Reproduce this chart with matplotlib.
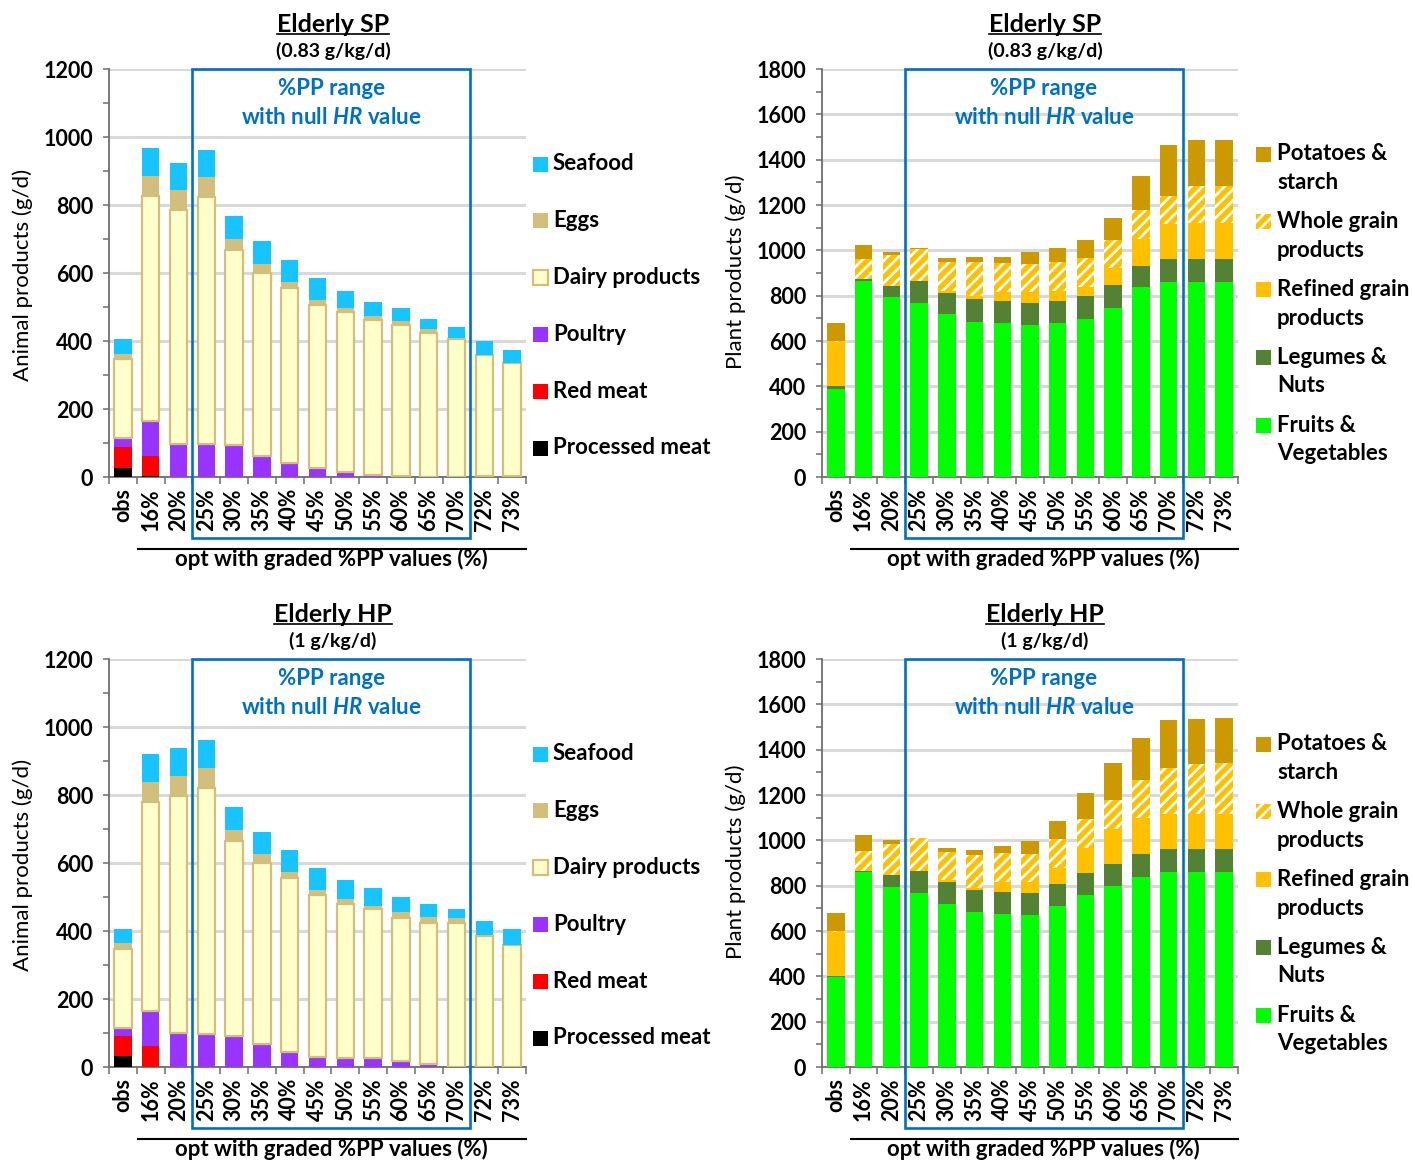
import matplotlib
matplotlib.use("Agg")
import matplotlib.pyplot as plt
import numpy as np
from matplotlib.patches import Rectangle
from matplotlib.lines import Line2D
from matplotlib.ticker import MultipleLocator
import matplotlib.transforms as mtransforms

plt.rcParams['font.family'] = ['Lato', 'DejaVu Sans']
plt.rcParams['mathtext.fontset'] = 'custom'
plt.rcParams['mathtext.it'] = 'Lato:italic:bold'
plt.rcParams['mathtext.rm'] = 'Lato:bold'
plt.rcParams['hatch.linewidth'] = 1.9

# ---------------------------------------------------------------- data
categories = ["obs", "16%", "20%", "25%", "30%", "35%", "40%", "45%",
              "50%", "55%", "60%", "65%", "70%", "72%", "73%"]

# Animal products, Elderly SP (g/d)
sp_processed = [27, 2, 0, 0, 0, 0, 0, 0, 0, 0, 0, 0, 0, 0, 0]
sp_red = [61, 61, 0, 0, 0, 0, 0, 0, 0, 0, 0, 0, 0, 3, 3]
sp_poultry = [28, 102, 98, 98, 93, 63, 41, 26, 14, 7, 2, 0, 0, 0, 0]
sp_dairy = [230, 662, 688, 726, 576, 538, 514, 480, 470, 455, 444, 424, 407, 355, 332]
sp_eggs = [17, 59, 59, 58, 31, 25, 18, 14, 13, 12, 13, 10, 2, 0, 0]
sp_seafood = [42, 82, 78, 79, 69, 67, 64, 64, 49, 42, 37, 32, 31, 41, 40]

# Plant products, Elderly SP (g/d)
sp_fruits = [390, 865, 792, 769, 719, 683, 678, 672, 678, 695, 745, 837, 860, 860, 860]
sp_legumes = [11, 8, 51, 97, 94, 102, 97, 97, 97, 102, 102, 95, 100, 100, 100]
sp_refined = [196, 0, 0, 0, 8, 15, 43, 46, 44, 40, 74, 118, 155, 162, 162]
sp_whole = [3, 87, 137, 142, 128, 147, 126, 125, 131, 131, 125, 127, 125, 162, 162]
sp_potatoes = [80, 62, 14, 4, 17, 22, 28, 54, 62, 78, 96, 152, 224, 204, 204]

# Animal products, Elderly HP (g/d)
hp_processed = [31, 0, 0, 0, 0, 0, 0, 0, 0, 0, 0, 0, 0, 0, 0]
hp_red = [61, 61, 0, 0, 0, 0, 0, 0, 0, 0, 0, 0, 0, 0, 0]
hp_poultry = [24, 103, 100, 96, 92, 67, 44, 30, 26, 26, 18, 10, 0, 0, 0]
hp_dairy = [231, 614, 697, 725, 573, 533, 511, 476, 454, 439, 421, 413, 423, 384, 360]
hp_eggs = [17, 59, 59, 59, 33, 26, 18, 14, 14, 9, 16, 17, 14, 4, 0]
hp_seafood = [41, 83, 83, 82, 68, 64, 64, 64, 56, 52, 45, 38, 28, 40, 45]

# Plant products, Elderly HP (g/d)
hp_fruits = [396, 860, 792, 769, 717, 683, 677, 671, 712, 757, 797, 837, 860, 860, 860]
hp_legumes = [4, 6, 56, 97, 97, 97, 97, 98, 96, 97, 97, 103, 102, 102, 102]
hp_refined = [196, 0, 0, 0, 9, 8, 43, 48, 68, 113, 158, 157, 155, 155, 155]
hp_whole = [3, 86, 138, 143, 127, 146, 129, 123, 128, 125, 126, 167, 201, 221, 226]
hp_potatoes = [82, 72, 15, 3, 17, 22, 27, 55, 81, 118, 164, 186, 212, 196, 197]

animal_labels = ["Processed meat", "Red meat", "Poultry", "Dairy products", "Eggs", "Seafood"]
plant_labels = ["Fruits &\nVegetables", "Legumes &\nNuts", "Refined grain\nproducts",
                "Whole grain\nproducts", "Potatoes &\nstarch"]

# ---------------------------------------------------------------- styles
EGG = "#D3BF7C"
animal_styles = [
    dict(color="#000000"),
    dict(color="#FF0000"),
    dict(color="#9933FF"),
    dict(facecolor="#FFFFCC", edgecolor=EGG, linewidth=1.6),
    dict(color=EGG),
    dict(color="#17C4FF"),
]
plant_styles = [
    dict(color="#00FF00"),
    dict(color="#548235"),
    dict(color="#FFC000"),
    dict(facecolor="#FFC000", edgecolor="white", linewidth=0, hatch="///"),
    dict(color="#CC9900"),
]
BLUE = "#0070C0"
FS = 16

W, H = 1412, 1161
fig = plt.figure(figsize=(W / 100, H / 100), dpi=100)


def add_axes_px(x0, x1, ytop, ybot):
    return fig.add_axes([x0 / W, 1 - ybot / H, (x1 - x0) / W, (ybot - ytop) / H])


def draw_panel(ax, series, styles, ymax, major):
    x = np.arange(len(categories))
    bottom = np.zeros(len(categories))
    for vals, st in zip(series, styles):
        vals = np.asarray(vals, dtype=float)
        ax.bar(x, vals, width=0.63, bottom=bottom, zorder=3, **st)
        bottom += vals

    ax.set_xlim(-0.5, len(categories) - 0.5)
    ax.set_ylim(0, ymax)
    ax.yaxis.set_major_locator(MultipleLocator(major))
    ax.yaxis.set_minor_locator(MultipleLocator(major / 2))
    ax.grid(axis="y", which="major", color="#D9D9D9", lw=2.2, zorder=0)
    ax.set_axisbelow(True)
    for s in ("top", "right"):
        ax.spines[s].set_visible(False)
    for s in ("left", "bottom"):
        ax.spines[s].set_color("#6E6E6E")
        ax.spines[s].set_linewidth(1.3)
    ax.tick_params(axis="y", which="both", direction="out", length=4.5,
                   width=1.1, color="#6E6E6E", pad=7, labelsize=15.5)
    for lab in ax.get_yticklabels():
        lab.set_fontweight("bold")

    # boundary ticks between categories, labels centred on the bars
    ax.set_xticks(np.arange(-0.5, len(categories), 1.0))
    ax.set_xticklabels([])
    ax.set_xticks(x, minor=True)
    ax.set_xticklabels(categories, minor=True, rotation=90, fontsize=15.5,
                       fontweight="bold")
    ax.tick_params(axis="x", which="major", direction="out", length=5,
                   width=1.1, color="#6E6E6E")
    ax.tick_params(axis="x", which="minor", length=0, pad=8)

    trans = mtransforms.blended_transform_factory(ax.transData, ax.transAxes)
    # highlighted %PP range
    ax.add_patch(Rectangle((2.5, -0.150), 10.0, 1.150, transform=trans,
                           fill=False, edgecolor=BLUE, lw=1.9, clip_on=False,
                           zorder=5))
    ax.text(7.5, 0.951, "%PP range", transform=trans, ha="center", va="center",
            color=BLUE, fontsize=FS, fontweight="bold", zorder=6)
    ax.text(7.5, 0.880, r"with null $\mathit{HR}$ value", transform=trans,
            ha="center", va="center", color=BLUE, fontsize=FS,
            fontweight="bold", zorder=6)
    # group bracket for optimised diets
    ax.add_line(Line2D([0.55, len(categories) - 0.5], [-0.176, -0.176],
                       transform=trans, color="black", lw=1.5, clip_on=False))
    ax.text(7.5, -0.201, "opt with graded %PP values (%)", transform=trans,
            ha="center", va="center", fontsize=FS, fontweight="bold")


def draw_legend(labels, styles, xsq, ycs, xtext):
    for lab, st, yc in zip(labels, styles, ycs):
        st = dict(st)
        fc = st.pop("facecolor", st.get("color"))
        ec = st.pop("edgecolor", st.get("color"))
        st.pop("color", None)
        lw = st.pop("linewidth", 0)
        hatch = st.pop("hatch", None)
        r = Rectangle((xsq / W, 1 - (yc + 7.5) / H), 15 / W, 15 / H,
                      transform=fig.transFigure, facecolor=fc, edgecolor=ec,
                      lw=lw, hatch=hatch)
        fig.patches.append(r)
        for k, line in enumerate(lab.split("\n")):
            fig.text(xtext / W, 1 - (yc + 28.5 * k) / H, line, ha="left",
                     va="center", fontsize=FS, fontweight="bold")


titles = []


def add_title(xc, yc, main, sub):
    t = fig.text(xc / W, 1 - yc / H, main, ha="center", va="center",
                 fontsize=18, fontweight="bold")
    fig.text(xc / W, 1 - (yc + 26) / H, sub, ha="center", va="center",
             fontsize=14, fontweight="bold")
    titles.append(t)


# ---------------------------------------------------------------- panels
for row, (dy, tag, sub, an, pl) in enumerate([
    (0, "Elderly SP", "(0.83 g/kg/d)",
     [sp_processed, sp_red, sp_poultry, sp_dairy, sp_eggs, sp_seafood],
     [sp_fruits, sp_legumes, sp_refined, sp_whole, sp_potatoes]),
    (590, "Elderly HP", "(1 g/kg/d)",
     [hp_processed, hp_red, hp_poultry, hp_dairy, hp_eggs, hp_seafood],
     [hp_fruits, hp_legumes, hp_refined, hp_whole, hp_potatoes]),
]):
    ax_a = add_axes_px(109, 526, 69 + dy, 477 + dy)
    draw_panel(ax_a, an, animal_styles, 1200, 200)
    fig.text(23 / W, 1 - (275 + dy) / H, "Animal products (g/d)", rotation=90,
             ha="center", va="center", fontsize=16)
    add_title(333, 25 + dy, tag, sub)
    draw_legend(animal_labels[::-1], animal_styles[::-1],
                533, [164 + dy + 56.8 * i for i in range(6)], 553)

    ax_p = add_axes_px(822, 1238, 69 + dy, 477 + dy)
    draw_panel(ax_p, pl, plant_styles, 1800, 200)
    fig.text(736 / W, 1 - (272 + dy) / H, "Plant products (g/d)", rotation=90,
             ha="center", va="center", fontsize=16)
    add_title(1045, 25 + dy, tag, sub)
    draw_legend(plant_labels[::-1], plant_styles[::-1],
                1256, [154 + dy + 67.8 * i for i in range(5)], 1277)

# underline the panel titles
fig.canvas.draw()
renderer = fig.canvas.get_renderer()
inv = fig.transFigure.inverted()
for t in titles:
    bb = t.get_window_extent(renderer)
    (x0, y0), (x1, _) = inv.transform([[bb.x0, bb.y0 + 3], [bb.x1, bb.y0]])
    fig.add_artist(Line2D([x0, x1], [y0, y0], transform=fig.transFigure,
                          color="black", lw=1.2))

fig.savefig("out.png", dpi=100)
